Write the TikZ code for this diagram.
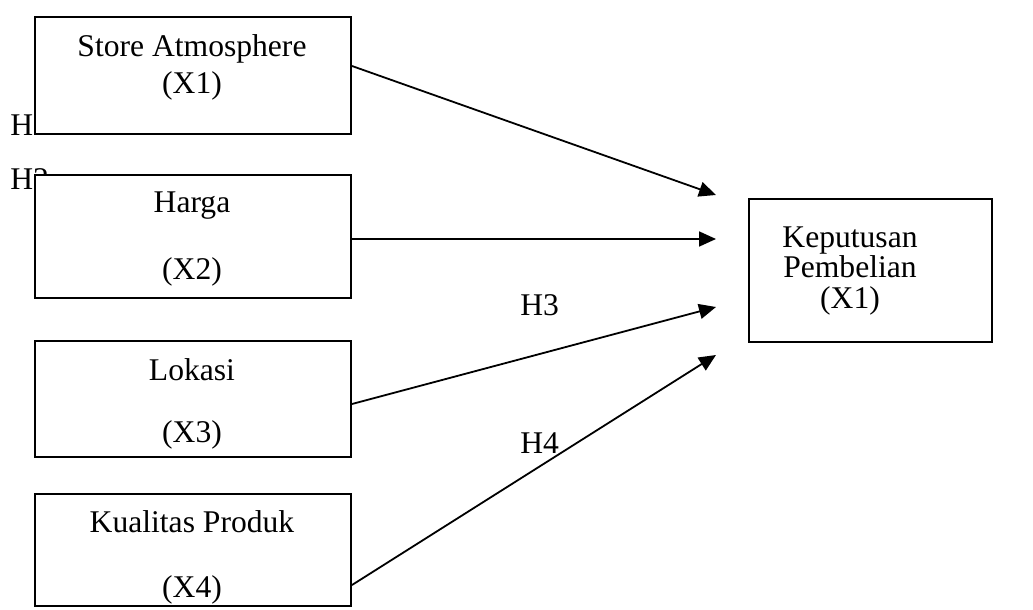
\documentclass[tikz,border=0pt]{standalone}
\usepackage{fontspec}
\setmainfont{Liberation Serif}
\usetikzlibrary{arrows.meta}
\begin{document}
\begin{tikzpicture}[x=0.5pt,y=-0.5pt,
  every node/.style={font=\fontsize{15.8pt}{19pt}\selectfont, inner sep=0pt},
  box/.style={draw, line width=1pt, fill=white, anchor=north west},
  lbl/.style={anchor=base},
  hl/.style={anchor=base west},
  arr/.style={line width=0.9pt, -{Triangle[length=8.5pt,width=7.5pt]}}]
\useasboundingbox (0,0) rectangle (1033,610);
% hypothesis labels partly hidden behind the boxes
\node[hl] (h1) at (10,135) {H1};
\node[hl] (h2) at (10,190) {H2};
% boxes
\node[box, minimum width=158pt, minimum height=58.5pt] (b1) at (34,16) {};
\node[box, minimum width=158pt, minimum height=61.5pt] (b2) at (34,174) {};
\node[box, minimum width=158pt, minimum height=58pt] (b3) at (34,340) {};
\node[box, minimum width=158pt, minimum height=56pt] (b4) at (34,493) {};
\node[box, minimum width=121.5pt, minimum height=71.5pt] (y) at (748,198) {};
% texts
\node[lbl] (t1a) at (192,57) {Store Atmosphere};
\node[lbl] (t1b) at (192,94) {(X1)};
\node[lbl] (t2a) at (192,213) {Harga};
\node[lbl] (t2b) at (192,279) {(X2)};
\node[lbl] (t3a) at (192,380) {Lokasi};
\node[lbl] (t3b) at (192,442) {(X3)};
\node[lbl] (t4a) at (192,532) {Kualitas Produk};
\node[lbl] (t4b) at (192,597) {(X4)};
\node[lbl] (ya) at (850,247) {Keputusan};
\node[lbl] (yb) at (850,277) {Pembelian};
\node[lbl] (yc) at (850,308) {(X1)};
\node[hl] (h3) at (520,315) {H3};
\node[hl] (h4) at (520,453) {H4};
% arrow ends
\coordinate (e1) at (716,195);
\coordinate (e2) at (716,239);
\coordinate (e3) at (716,307);
\coordinate (e4) at (716,355);
\draw[arr] (b1.east |- 0,66) -- (e1);
\draw[arr] (b2.east |- 0,239) -- (e2);
\draw[arr] (b3.east |- 0,404) -- (e3);
\draw[arr] (b4.east |- 0,585) -- (e4);
\end{tikzpicture}
\end{document}
